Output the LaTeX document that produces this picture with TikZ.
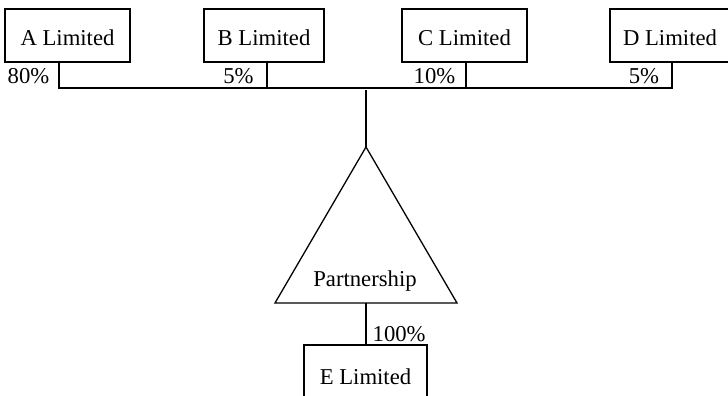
\documentclass[tikz,border=0pt]{standalone}
\usepackage{fontspec}
\setmainfont{Liberation Serif}
\begin{document}
\begin{tikzpicture}[x=1pt,y=-1pt,line width=1.3pt,
  every node/.style={font=\fontsize{22.7}{27}\selectfont},
  company/.style={draw,line width=1.3pt,inner sep=0pt,minimum height=53pt,text height=20.4pt,text depth=0pt},
  pct/.style={inner sep=0pt,anchor=base}]
\useasboundingbox (0,0) rectangle (728,396);
\clip (0,0) rectangle (728,396);
% company boxes
\node[company,minimum width=125pt] (A) at (67.5,35.5) {A Limited};
\node[company,minimum width=120pt] (B) at (264,35.5) {B Limited};
\node[company,minimum width=125pt] (C) at (464.5,35.5) {C Limited};
\node[company,minimum width=120pt] (D) at (670,35.5) {D Limited};
\node[company,minimum width=123pt,text height=26pt] (E) at (365.5,371.5) {E Limited};
% bus
\coordinate (busA) at (59,88);
\coordinate (busB) at (267,88);
\coordinate (busC) at (466,88);
\coordinate (busD) at (672,88);
\coordinate (busM) at (366,90);
\draw (A.south -| busA) -- (busA) -- (busD) -- (D.south -| busD);
\draw (B.south -| busB) -- (busB);
\draw (C.south -| busC) -- (busC);
% triangle
\coordinate (apex) at (366,147);
\coordinate (bl) at (275,303);
\coordinate (br) at (457,303);
\coordinate (bm) at (366,303);
\draw[line join=miter] (apex) -- (br) -- (bl) -- cycle;
\node[pct,anchor=base] (P) at (365,286) {Partnership};
\draw (busM) -- (apex);
\draw (bm) -- (E.north -| bm);
% percentages
\node[pct,anchor=base east] (pA) at (50,83.5) {80\%};
\node[pct] (pB) at (238.5,83.5) {5\%};
\node[pct] (pC) at (434.5,83.5) {10\%};
\node[pct] (pD) at (644,83.5) {5\%};
\node[pct,anchor=base west] (pE) at (372,341) {100\%};
\end{tikzpicture}
\end{document}
